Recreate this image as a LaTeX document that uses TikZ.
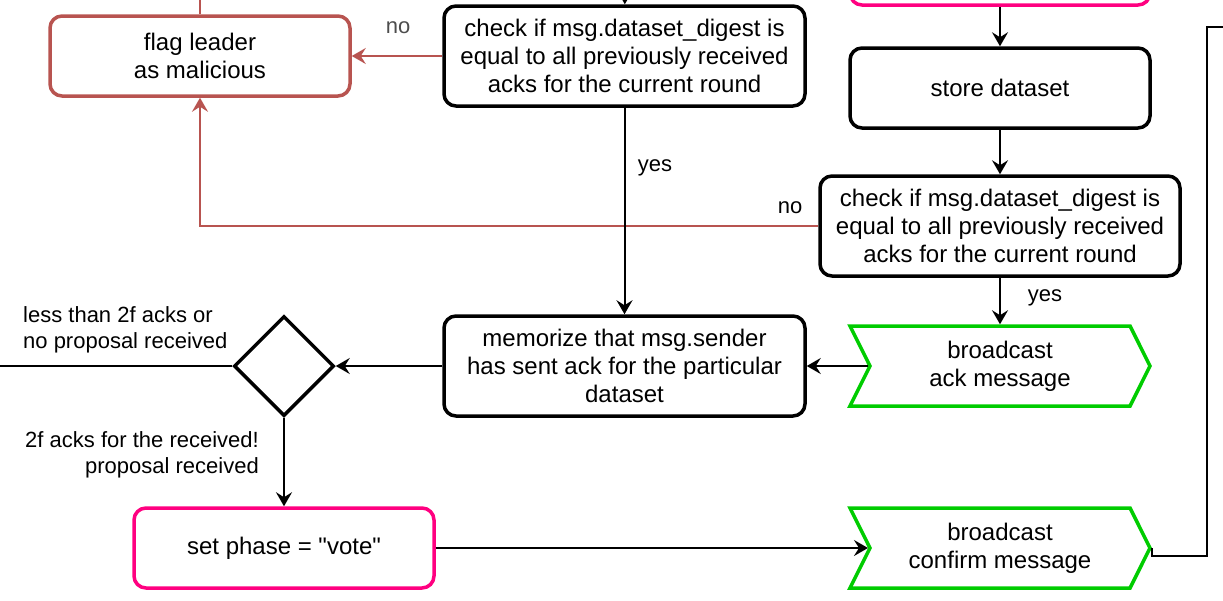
\documentclass[tikz,border=0pt]{standalone}
\usepackage{fontspec}
\setmainfont{Liberation Sans}
\usepackage{tikz}
\usetikzlibrary{arrows.meta, shapes.geometric, shapes.symbols}

\definecolor{pinkline}{HTML}{FF0080}
\definecolor{greenline}{HTML}{00CC00}
\definecolor{redline}{HTML}{B85450}
\definecolor{greytext}{HTML}{4D4D4D}

\begin{document}
\begin{tikzpicture}[x=1pt, y=-1pt,
		font=\fontsize{24}{28}\selectfont,
		procbox/.style={draw, line width=3.5pt, rounded corners=12pt, align=center, inner sep=0pt, minimum height=80pt},
		checkbox/.style={procbox, minimum width=360pt, minimum height=100pt},
		pinkbox/.style={procbox, draw=pinkline, minimum width=300pt},
		flagbox/.style={procbox, draw=redline, minimum width=300pt},
		sendbox/.style={signal, signal from=west, signal to=east, signal pointer angle=127, draw=greenline, line width=3.5pt, minimum width=300pt, minimum height=80pt, align=center, inner sep=0pt},
		decision/.style={diamond, draw, line width=3.5pt, minimum width=100pt, minimum height=100pt, inner sep=0pt},
		flow/.style={-{Stealth[length=14pt, width=16pt, inset=5pt]}, line width=2pt},
		badflow/.style={flow, draw=redline},
		edgelabel/.style={font=\fontsize{22}{26}\selectfont, inner sep=0pt}
	]
		\clip (0,0) rectangle (1223,600);
		
		\begin{scope}
			\node [pinkbox] (recv) at (1000,-35) {};
			\node [procbox, minimum width=300pt] (store) at (1000,88) {store dataset};
			\node [checkbox] (checkown) at (1000,226) {check if msg.dataset\_digest is\\equal to all previously received\\acks for the current round};
			\node [sendbox] (sendack) at (1000,366) {broadcast\\ack message};
			\node [sendbox] (sendconfirm) at (1000,548) {broadcast\\confirm message};
		\end{scope}
		
		\begin{scope}
			\coordinate (ackin) at (625,-30);
			\node [checkbox, minimum width=361pt] (checkack) at (624.5,56) {check if msg.dataset\_digest is\\equal to all previously received\\acks for the current round};
			\node [flagbox] (flag) at (200,56) {flag leader\\as malicious};
			\node [checkbox, minimum width=361pt] (memo) at (624.5,366) {memorize that msg.sender\\has sent ack for the particular\\dataset};
			\node [decision] (enough) at (284,366) {};
			\node [pinkbox] (vote) at (284,548) {set phase = \textquotedbl vote\textquotedbl};
		\end{scope}
		
		\begin{scope}
			\coordinate (flagout) at (200,-5);
			\coordinate (waitout) at (-5,366);
			\coordinate (confirmout) at (1230,27);
		\end{scope}
		
		\begin{scope}
			\draw [flow] (recv) -- (store);
			\draw [flow] (store) -- (checkown);
			\draw [flow] (checkown) -- (sendack);
			\draw [flow] (sendack.west) -- (memo);
			\draw [badflow] (checkown.west) -| (flag.south);
			\draw [flow] (ackin) -- (checkack);
			\draw [badflow] (checkack) -- (flag);
			\draw [flow] (checkack) -- (memo);
			\draw [flow] (memo) -- (enough);
			\draw [line width=2pt] (enough.west) -- (waitout);
			\draw [flow] (enough) -- (vote);
			\draw [flow] (vote) -- (sendconfirm.west);
			\draw [line width=2pt] (sendconfirm.east) -- ++(0,8) -- ++(55,0) |- (confirmout);
			\draw [line width=2pt, draw=redline] (flag) -- (flagout);
		\end{scope}
		
		\begin{scope}
			\node [edgelabel, text=greytext] at (398,28) {no};
			\node [edgelabel] at (790,208) {no};
			\node [edgelabel] at (655,168) {yes};
			\node [edgelabel] at (1045,298) {yes};
			\node [edgelabel, align=left, anchor=west] at (23,330) {less than 2f acks or\\no proposal received};
			\node [edgelabel, align=right, anchor=east] at (259,455) {2f acks for the received!\\proposal received};
		\end{scope}
	\end{tikzpicture}
\end{document}
